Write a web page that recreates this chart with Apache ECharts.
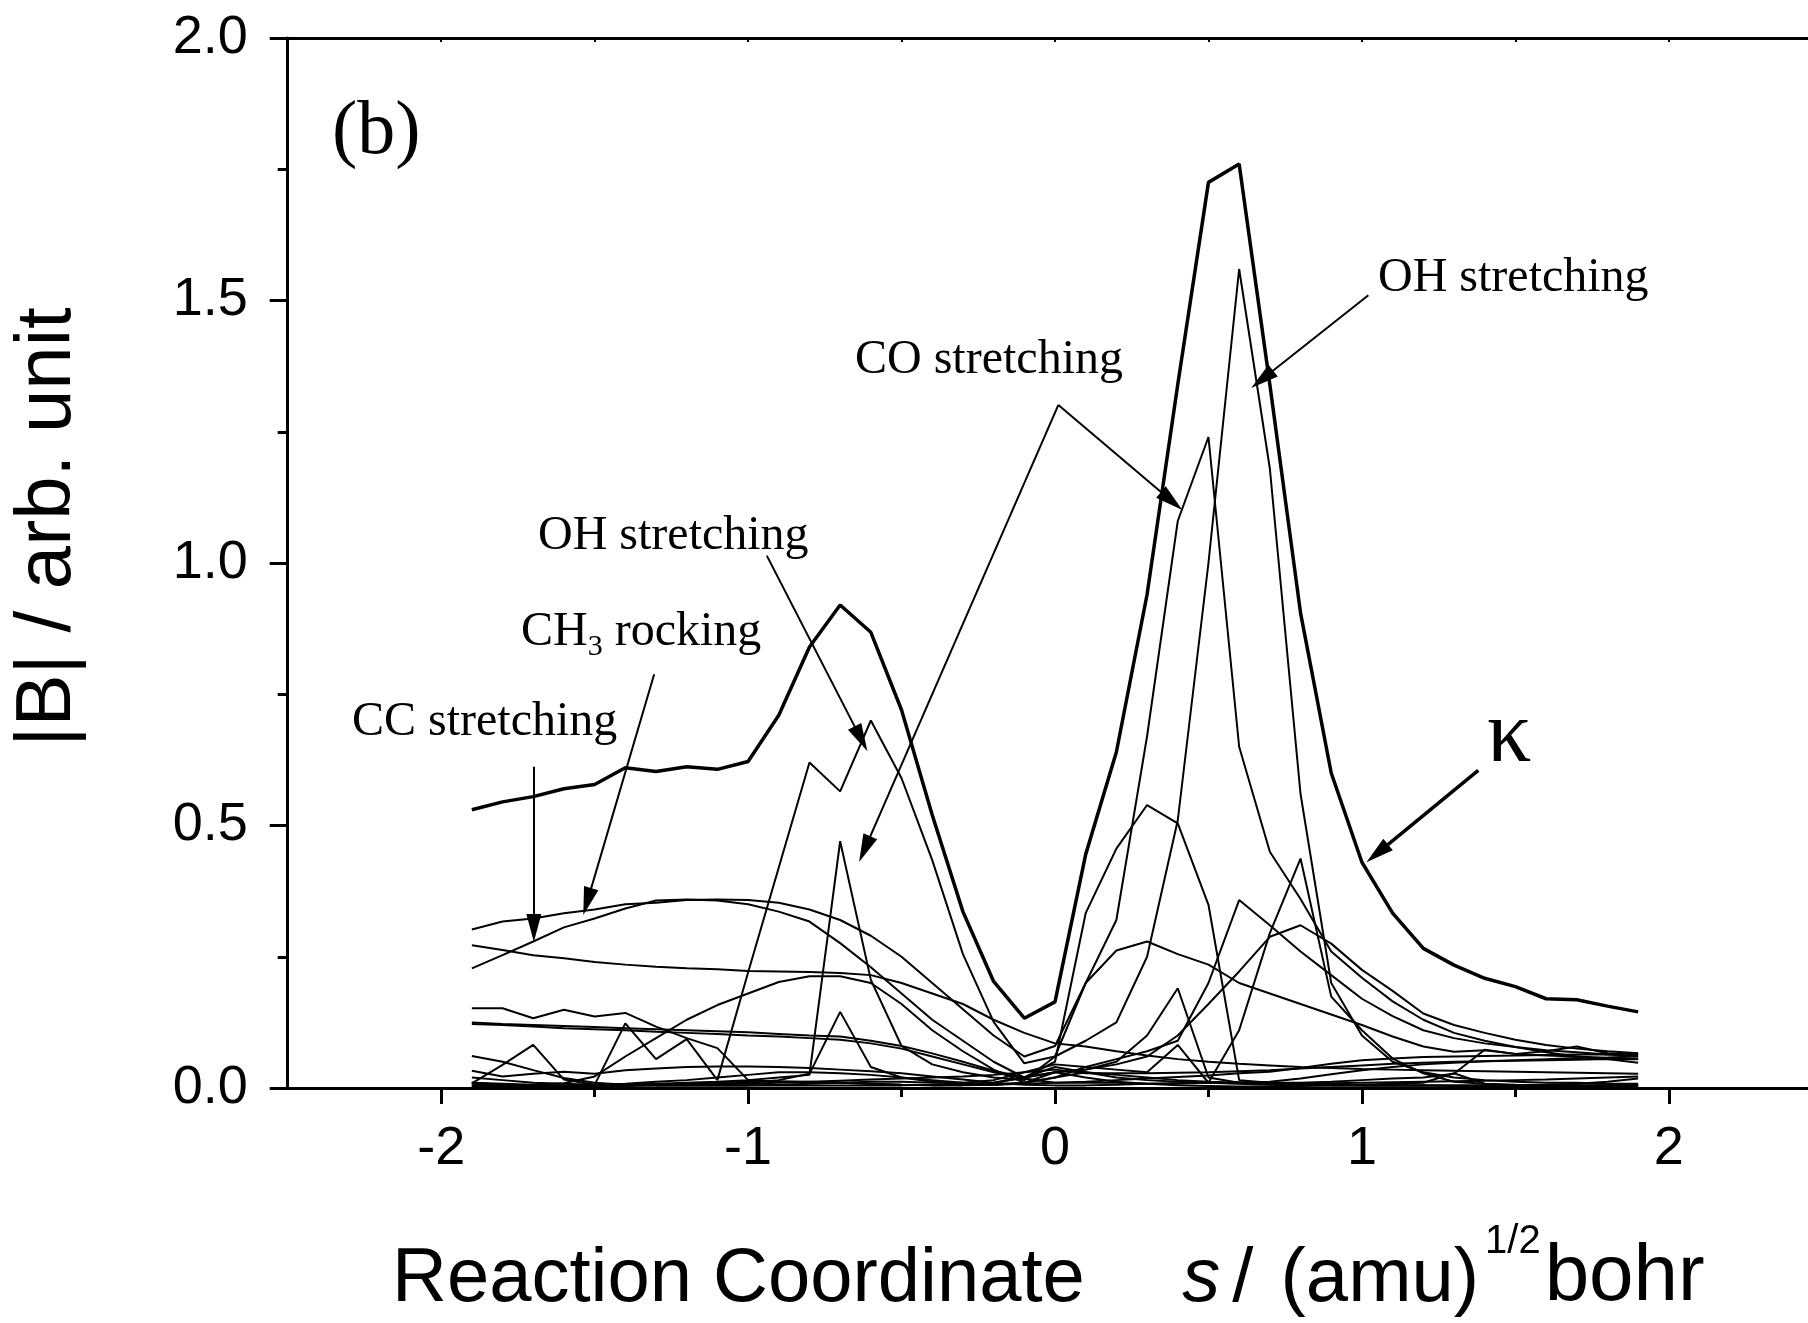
<!DOCTYPE html>
<html>
<head>
<meta charset="utf-8">
<script src="https://cdn.jsdelivr.net/npm/echarts@6/dist/echarts.min.js"></script>
<style>
  html, body { margin: 0; padding: 0; background: #fff; }
  #chart { width: 1808px; height: 1323px; }
</style>
</head>
<body>
<div id="chart"></div>
<script>
// reaction coordinate s, one point every 0.1
var sValues = [-1.9, -1.8, -1.7, -1.6, -1.5, -1.4, -1.3, -1.2, -1.1, -1.0,
  -0.9, -0.8, -0.7, -0.6, -0.5, -0.4, -0.3, -0.2, -0.1,
  0, 0.1, 0.2, 0.3, 0.4, 0.5, 0.6, 0.7, 0.8, 0.9,
  1.0, 1.1, 1.2, 1.3, 1.4, 1.5, 1.6, 1.7, 1.8, 1.9];

// |B| curves
var kappa = [0.53, 0.545, 0.555, 0.57, 0.578, 0.61, 0.603, 0.612, 0.607, 0.622,
  0.71, 0.84, 0.92, 0.868, 0.72, 0.52, 0.336, 0.203, 0.133,
  0.164, 0.445, 0.64, 0.94, 1.34, 1.725, 1.76, 1.34, 0.905, 0.60,
  0.43, 0.333, 0.266, 0.234, 0.209, 0.193, 0.17, 0.168, 0.156, 0.145];
var ohStretch = [0.004, 0.004, 0.003, 0.004, 0.006, 0.123, 0.055, 0.093, 0.015, 0.22,
  0.42, 0.62, 0.565, 0.70, 0.59, 0.434, 0.255, 0.126, 0.047,
  0.06, 0.09, 0.125, 0.25, 0.51, 1.0, 1.56, 1.18, 0.56, 0.2,
  0.1, 0.05, 0.03, 0.02, 0.015, 0.012, 0.01, 0.01, 0.008, 0.008];
var coStretch = [0.01, 0.006, 0.004, 0.004, 0.005, 0.006, 0.008, 0.01, 0.012, 0.015,
  0.02, 0.025, 0.47, 0.206, 0.08, 0.045, 0.03, 0.02, 0.015,
  0.06, 0.2, 0.32, 0.67, 1.08, 1.24, 0.65, 0.45, 0.36, 0.26,
  0.21, 0.165, 0.13, 0.105, 0.09, 0.078, 0.068, 0.06, 0.055, 0.048];
var mode4 = [0.302, 0.317, 0.323, 0.333, 0.34, 0.35, 0.353, 0.358, 0.359, 0.358,
  0.353, 0.34, 0.32, 0.29, 0.25, 0.2, 0.15, 0.1, 0.06,
  0.08, 0.2, 0.262, 0.279, 0.255, 0.235, 0.2, 0.18, 0.16, 0.14,
  0.12, 0.098, 0.079, 0.069, 0.072, 0.065, 0.062, 0.06, 0.057, 0.055];
var mode5 = [0.228, 0.253, 0.279, 0.306, 0.323, 0.342, 0.357, 0.359, 0.357, 0.35,
  0.336, 0.317, 0.276, 0.23, 0.18, 0.13, 0.09, 0.05, 0.02,
  0.03, 0.035, 0.045, 0.06, 0.1, 0.16, 0.222, 0.288, 0.31, 0.275,
  0.225, 0.185, 0.142, 0.12, 0.105, 0.092, 0.082, 0.075, 0.07, 0.066];
var mode6 = [0.272, 0.263, 0.253, 0.247, 0.24, 0.235, 0.231, 0.228, 0.226, 0.223,
  0.222, 0.221, 0.219, 0.215, 0.2, 0.18, 0.16, 0.13, 0.105,
  0.085, 0.079, 0.07, 0.062, 0.055, 0.05, 0.046, 0.043, 0.04, 0.038,
  0.036, 0.035, 0.034, 0.033, 0.032, 0.031, 0.03, 0.029, 0.028, 0.027];
var mode7 = [0.005, 0.005, 0.006, 0.009, 0.022, 0.06, 0.095, 0.13, 0.158, 0.18,
  0.202, 0.213, 0.213, 0.2, 0.16, 0.11, 0.07, 0.035, 0.01,
  0.02, 0.04, 0.055, 0.07, 0.09, 0.2, 0.358, 0.31, 0.26, 0.215,
  0.17, 0.137, 0.11, 0.095, 0.085, 0.078, 0.072, 0.068, 0.064, 0.06];
var mode8 = [0.152, 0.152, 0.133, 0.149, 0.136, 0.143, 0.117, 0.095, 0.076, 0.015,
  0.012, 0.01, 0.01, 0.008, 0.006, 0.005, 0.005, 0.006, 0.008,
  0.01, 0.01, 0.01, 0.008, 0.008, 0.01, 0.11, 0.295, 0.437, 0.174,
  0.11, 0.056, 0.028, 0.012, 0.008, 0.006, 0.005, 0.005, 0.005, 0.005];
var mode9 = [0.125, 0.122, 0.12, 0.118, 0.116, 0.114, 0.112, 0.11, 0.108, 0.106,
  0.103, 0.1, 0.098, 0.09, 0.08, 0.066, 0.05, 0.033, 0.02,
  0.03, 0.035, 0.05, 0.1, 0.19, 0.02, 0.01, 0.008, 0.006, 0.005,
  0.005, 0.005, 0.005, 0.005, 0.005, 0.005, 0.005, 0.005, 0.005, 0.005];
var mode10 = [0.122, 0.12, 0.117, 0.114, 0.112, 0.11, 0.107, 0.105, 0.103, 0.1,
  0.098, 0.095, 0.092, 0.085, 0.075, 0.06, 0.045, 0.03, 0.018,
  0.01, 0.012, 0.015, 0.018, 0.021, 0.024, 0.028, 0.031, 0.038, 0.046,
  0.053, 0.056, 0.059, 0.06, 0.061, 0.062, 0.063, 0.064, 0.064, 0.065];
var mode11 = [0.061, 0.05, 0.034, 0.019, 0.01, 0.006, 0.005, 0.005, 0.005, 0.005,
  0.005, 0.005, 0.005, 0.005, 0.005, 0.006, 0.008, 0.01, 0.02,
  0.05, 0.333, 0.456, 0.539, 0.504, 0.349, 0.015, 0.01, 0.008, 0.006,
  0.005, 0.005, 0.005, 0.004, 0.004, 0.004, 0.004, 0.004, 0.004, 0.004];
var mode12 = [0.009, 0.044, 0.082, 0.016, 0.006, 0.005, 0.005, 0.005, 0.005, 0.005,
  0.006, 0.008, 0.01, 0.012, 0.012, 0.01, 0.01, 0.015, 0.03,
  0.045, 0.04, 0.035, 0.03, 0.082, 0.01, 0.008, 0.006, 0.005, 0.005,
  0.005, 0.005, 0.005, 0.005, 0.005, 0.005, 0.005, 0.005, 0.005, 0.005];
var mode13 = [0.033, 0.022, 0.027, 0.031, 0.027, 0.034, 0.037, 0.04, 0.041, 0.041,
  0.04, 0.038, 0.035, 0.032, 0.028, 0.022, 0.016, 0.01, 0.006,
  0.005, 0.005, 0.006, 0.008, 0.009, 0.01, 0.011, 0.012, 0.018, 0.026,
  0.034, 0.04, 0.045, 0.048, 0.051, 0.053, 0.055, 0.057, 0.058, 0.06];
var mode14 = [0.01, 0.008, 0.006, 0.005, 0.005, 0.005, 0.006, 0.007, 0.008, 0.01,
  0.015, 0.027, 0.145, 0.04, 0.02, 0.012, 0.008, 0.006, 0.01,
  0.02, 0.03, 0.025, 0.02, 0.015, 0.012, 0.01, 0.01, 0.01, 0.012,
  0.015, 0.018, 0.02, 0.027, 0.073, 0.065, 0.07, 0.079, 0.066, 0.063];
var mode15 = [0.02, 0.015, 0.01, 0.008, 0.006, 0.008, 0.012, 0.015, 0.02, 0.025,
  0.03, 0.03, 0.028, 0.025, 0.02, 0.015, 0.01, 0.006, 0.01,
  0.03, 0.02, 0.012, 0.008, 0.005, 0.004, 0.003, 0.003, 0.004, 0.005,
  0.006, 0.008, 0.01, 0.028, 0.008, 0.005, 0.006, 0.008, 0.012, 0.018];
var mode16 = [0.004, 0.003, 0.003, 0.003, 0.004, 0.005, 0.006, 0.008, 0.01, 0.012,
  0.013, 0.012, 0.01, 0.008, 0.006, 0.005, 0.006, 0.01, 0.02,
  0.04, 0.03, 0.02, 0.015, 0.012, 0.01, 0.009, 0.008, 0.008, 0.009,
  0.01, 0.011, 0.012, 0.013, 0.014, 0.015, 0.016, 0.018, 0.02, 0.022];
var mode17 = [0.008, 0.006, 0.004, 0.003, 0.003, 0.004, 0.005, 0.006, 0.007, 0.008,
  0.01, 0.012, 0.014, 0.016, 0.018, 0.02, 0.022, 0.025, 0.03,
  0.035, 0.028, 0.028, 0.028, 0.029, 0.03, 0.032, 0.034, 0.037, 0.04,
  0.043, 0.046, 0.048, 0.05, 0.051, 0.052, 0.053, 0.054, 0.055, 0.055];

var xLabelTicks = [-2, -1, 0, 1, 2];
var xMinorTicks = [-1.5, -0.5, 0.5, 1.5];
var xTopTicks = [-2, -1.5, -1, -0.5, 0, 0.5, 1, 1.5, 2];

var thinCurves = [ohStretch, coStretch, mode4, mode5, mode6, mode7, mode8, mode9,
  mode10, mode11, mode12, mode13, mode14, mode15, mode16, mode17];

// annotation arrows, in data units: [s0, v0, s1, v1]
var arrows = [
  [1.021, 1.51, 0.675, 1.35],    // OH stretching (right)
  [0.011, 1.301, 0.38, 1.118],   // CO stretching -> right peak
  [0.011, 1.301, -0.62, 0.455],  // CO stretching -> -0.7 spike
  [-0.939, 1.014, -0.632, 0.665],// OH stretching (left)
  [-1.306, 0.788, -1.524, 0.355],// CH3 rocking
  [-1.698, 0.612, -1.698, 0.305] // CC stretching
];
var kappaArrow = [1.379, 0.605, 1.05, 0.447];

function pairs(ys) {
  return ys.map(function (v, i) { return [sValues[i], v]; });
}

var chart = echarts.init(document.getElementById('chart'), null, { renderer: 'canvas' });

var series = thinCurves.map(function (ys) {
  return {
    type: 'line', data: pairs(ys), showSymbol: false, silent: true,
    lineStyle: { color: '#000', width: 2 }, z: 2
  };
});

var arrowData = arrows.map(function (a) {
  return [{ coord: [a[0], a[1]] }, { coord: [a[2], a[3]] }];
});
arrowData.push([{ coord: [kappaArrow[0], kappaArrow[1]], lineStyle: { width: 3.5 } },
  { coord: [kappaArrow[2], kappaArrow[3]] }]);

series.push({
  type: 'line', data: pairs(kappa), showSymbol: false, silent: true,
  lineStyle: { color: '#000', width: 3.5 }, z: 3,
  markLine: {
    silent: true, animation: false,
    symbol: ['none', 'triangle'], symbolSize: [15, 28],
    lineStyle: { color: '#000', width: 2, type: 'solid' },
    itemStyle: { color: '#000' },
    label: { show: false },
    data: arrowData
  }
});

var serif = 'Liberation Serif';
var sans = 'Liberation Sans';

function note(text, x, y, size, rich) {
  return {
    type: 'text', x: x, y: y, silent: true, z: 10,
    style: {
      text: text, fill: '#000', fontSize: size, fontFamily: serif,
      align: 'left', verticalAlign: 'middle', textAlign: 'left', textVerticalAlign: 'middle',
      rich: rich
    }
  };
}

var option = {
  animation: false,
  backgroundColor: '#fff',
  // plot runs from s=-2.5 to 2.5; the right edge falls just outside the picture
  grid: { left: 287.7, top: 38, width: 1534.6, height: 1050, containLabel: false, outerBoundsMode: 'none' },
  xAxis: [{
    type: 'value', position: 'bottom', min: -2.5, max: 2.5,
    axisLine: { show: true, onZero: false, lineStyle: { color: '#000', width: 3 } },
    axisTick: { show: true, customValues: xLabelTicks, length: 16, lineStyle: { color: '#000', width: 3 } },
    axisLabel: { customValues: xLabelTicks, fontSize: 54, fontFamily: sans, color: '#000', margin: 34 },
    splitLine: { show: false }
  }, {
    type: 'value', position: 'bottom', min: -2.5, max: 2.5,
    axisLine: { show: false },
    axisTick: { show: true, customValues: xMinorTicks, length: 9, lineStyle: { color: '#000', width: 3 } },
    axisLabel: { show: false },
    splitLine: { show: false }
  }, {
    type: 'value', position: 'top', min: -2.5, max: 2.5,
    axisLine: { show: true, onZero: false, lineStyle: { color: '#000', width: 3 } },
    axisTick: { show: true, inside: true, customValues: xTopTicks, length: 4, lineStyle: { color: '#000', width: 2 } },
    axisLabel: { show: false },
    splitLine: { show: false }
  }],
  yAxis: {
    type: 'value', min: 0, max: 2, interval: 0.5,
    axisLine: { show: true, onZero: false, lineStyle: { color: '#000', width: 3 } },
    axisTick: { show: true, length: 18, lineStyle: { color: '#000', width: 3 } },
    minorTick: { show: true, splitNumber: 2, length: 10, lineStyle: { color: '#000', width: 3 } },
    axisLabel: {
      fontSize: 54, fontFamily: sans, color: '#000', margin: 40,
      formatter: function (v) { return v.toFixed(1); }
    },
    splitLine: { show: false }
  },
  series: series,
  graphic: [
    note('(b)', 332, 133, 76),
    note('OH stretching', 1378, 278, 48),
    note('CO stretching', 855, 360, 48),
    note('OH stretching', 538, 536, 48),
    note('{a|CH}{sub|3}{a| rocking}', 521, 626, 48, {
      a: { fontSize: 48, fontFamily: serif, fill: '#000', verticalAlign: 'bottom', lineHeight: 60 },
      sub: { fontSize: 30, fontFamily: serif, fill: '#000', verticalAlign: 'bottom', lineHeight: 60, padding: [0, 0, -6, 0] }
    }),
    note('CC stretching', 352, 722, 48),
    note('\u03BA', 1487, 738, 88),
    {
      type: 'text', x: 392, y: 1270, silent: true,
      style: {
        text: '{n|Reaction Coordinate    }{i|s}{sl|/}{n| (amu)}{sup|1/2}{b|bohr}',
        fill: '#000', align: 'left', verticalAlign: 'middle',
        textAlign: 'left', textVerticalAlign: 'middle',
        rich: {
          n: { fontSize: 76, fontFamily: sans, fill: '#000', verticalAlign: 'bottom', lineHeight: 96 },
          i: { fontSize: 76, fontFamily: sans, fontStyle: 'italic', fill: '#000', verticalAlign: 'bottom', lineHeight: 96, padding: [0, 0, 0, 13] },
          sl: { fontSize: 76, fontFamily: sans, fill: '#000', verticalAlign: 'bottom', lineHeight: 96, padding: [0, 6, 0, 12] },
          sup: { fontSize: 40, fontFamily: sans, fill: '#000', verticalAlign: 'top', lineHeight: 60, padding: [0, 4, 0, 6] },
          b: { fontSize: 80, fontFamily: sans, fill: '#000', verticalAlign: 'bottom', lineHeight: 96 }
        }
      }
    },
    {
      type: 'text', x: 48, y: 527, rotation: Math.PI / 2, silent: true,
      style: {
        text: '|B| / arb. unit', fill: '#000', fontSize: 78, fontFamily: sans,
        align: 'center', verticalAlign: 'middle', textAlign: 'center', textVerticalAlign: 'middle'
      }
    }
  ]
};

chart.setOption(option);
</script>
</body>
</html>
